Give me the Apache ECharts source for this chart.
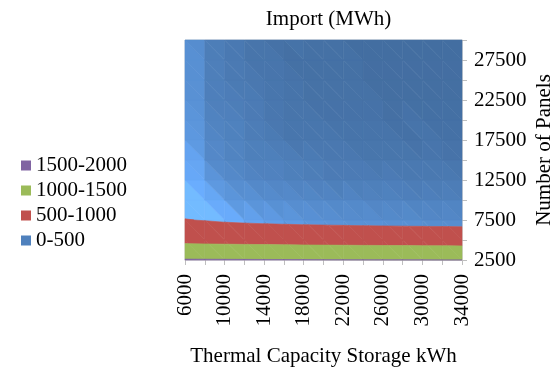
<!DOCTYPE html>
<html>
<head>
<meta charset="utf-8">
<script src="https://cdn.jsdelivr.net/npm/echarts@6/dist/echarts.min.js"></script>
<style>
  html, body { margin: 0; padding: 0; background: #fff; }
  #chart { width: 559px; height: 372px; }
</style>
</head>
<body>
<div id="chart"></div>
<script>
// Thermal storage capacity (kWh) along x, number of panels along y
const storageKWh = [6000, 8000, 10000, 12000, 14000, 16000, 18000, 20000, 22000, 24000, 26000, 28000, 30000, 32000, 34000];
const panelCounts = [2500, 5000, 7500, 10000, 12500, 15000, 17500, 20000, 22500, 25000, 27500, 30000];

// Grid import (MWh), one row per panel count, one value per storage size
const importAt2500 = [1530, 1527, 1524, 1521, 1518, 1516, 1514, 1512, 1510, 1508, 1507, 1506, 1505, 1504, 1503];
const importAt5000 = [883, 872, 862, 853, 845, 838, 831, 825, 819, 813, 808, 803, 798, 794, 790];
const importAt7500 = [512, 485, 455, 435, 420, 408, 398, 390, 383, 377, 371, 366, 361, 357, 353];
const importAt10000 = [312, 270, 250, 238, 228, 220, 213, 207, 202, 197, 193, 189, 186, 183, 180];
const importAt12500 = [195, 172, 158, 149, 142, 136, 131, 127, 124, 121, 118, 115, 113, 111, 109];
const importAt15000 = [150, 128, 118, 110, 104, 98, 93, 89, 86, 83, 81, 79, 77, 75, 74];
const importAt17500 = [122, 104, 94, 86, 80, 75, 72, 69, 66, 64, 62, 60, 59, 57, 56];
const importAt20000 = [106, 89, 80, 72, 66, 62, 59, 56, 54, 52, 50, 49, 47, 46, 45];
const importAt22500 = [94, 78, 70, 63, 57, 53, 50, 48, 46, 44, 42, 41, 40, 39, 38];
const importAt25000 = [86, 70, 62, 56, 51, 47, 44, 42, 40, 38, 37, 36, 35, 34, 33];
const importAt27500 = [80, 64, 56, 50, 46, 42, 40, 38, 36, 34, 33, 32, 31, 30, 29];
const importAt30000 = [75, 60, 52, 46, 42, 39, 36, 34, 32, 31, 30, 29, 28, 27, 26];

// Contour bands
const bandEdges = [0, 500, 1000, 1500, 2000];
const bandLabels = ['0-500', '500-1000', '1000-1500', '1500-2000'];

// ---- styling ----
const bandColors = ['#4F81BD', '#C0504D', '#9BBB59', '#8064A2'];
const bandRelief = [1, 0, 0, 0];   // how strongly slope lighting tints each band
const FONT = '"Liberation Serif", "Times New Roman", serif';

const importGrid = [importAt2500, importAt5000, importAt7500, importAt10000, importAt12500,
  importAt15000, importAt17500, importAt20000, importAt22500, importAt25000, importAt27500, importAt30000];

const nx = storageKWh.length, ny = panelCounts.length;
const cells = [];
for (let j = 0; j < ny - 1; j++) {
  for (let i = 0; i < nx - 1; i++) cells.push([i, j]);
}

// keep the part of a polygon on one side of a level of the field
function clipLevel(poly, level, keepAbove) {
  const out = [];
  for (let k = 0; k < poly.length; k++) {
    const a = poly[k], b = poly[(k + 1) % poly.length];
    const ina = keepAbove ? a.v >= level : a.v <= level;
    const inb = keepAbove ? b.v >= level : b.v <= level;
    if (ina) out.push(a);
    if (ina !== inb) {
      const t = (level - a.v) / (b.v - a.v);
      out.push({ x: a.x + t * (b.x - a.x), y: a.y + t * (b.y - a.y), v: level });
    }
  }
  return out;
}

// slope-dependent lighting of a facet
function lightFactor(gx, gy) {
  const f = 0.82 + 0.017 * Math.abs(gx) + 0.055 * Math.log(1 + Math.abs(gy) / 10);
  return Math.min(1.45, f);
}

function tint(hex, f) {
  const n = parseInt(hex.slice(1), 16);
  const r = Math.min(255, Math.round(((n >> 16) & 255) * f));
  const g = Math.min(255, Math.round(((n >> 8) & 255) * f));
  const b = Math.min(255, Math.round((n & 255) * f));
  return 'rgb(' + r + ',' + g + ',' + b + ')';
}

function makeRenderer(b) {
  const lo = bandEdges[b], hi = bandEdges[b + 1];
  return function (params, api) {
    const cell = cells[params.dataIndex];
    const i = cell[0], j = cell[1];
    const corner = (a, c) => {
      const p = api.coord([a, c]);
      return { x: p[0], y: p[1], v: importGrid[c][a] };
    };
    const c00 = corner(i, j), c10 = corner(i + 1, j), c01 = corner(i, j + 1), c11 = corner(i + 1, j + 1);
    // each cell is split along its top-left to bottom-right diagonal
    const tris = [
      { pts: [c00, c10, c01], gx: c10.v - c00.v, gy: c01.v - c00.v },
      { pts: [c10, c11, c01], gx: c11.v - c01.v, gy: c11.v - c10.v }
    ];
    const children = [];
    tris.forEach(t => {
      let poly = clipLevel(t.pts, lo, true);
      if (poly.length >= 3) poly = clipLevel(poly, hi, false);
      if (poly.length < 3) return;
      const f = 1 + bandRelief[b] * (lightFactor(t.gx, t.gy) - 1);
      const col = tint(bandColors[b], f);
      children.push({
        type: 'polygon',
        shape: { points: poly.map(p => [p.x, p.y]) },
        style: { fill: col, stroke: col, lineWidth: 0.6 }
      });
    });
    return { type: 'group', children: children };
  };
}

const chart = echarts.init(document.getElementById('chart'), null, { renderer: 'canvas' });

chart.setOption({
  animation: false,
  backgroundColor: '#ffffff',
  textStyle: { fontFamily: FONT },
  title: {
    text: 'Import (MWh)',
    left: 323.5,
    textAlign: 'center',
    top: 4,
    textStyle: { fontFamily: FONT, fontSize: 21, fontWeight: 'normal', color: '#000' }
  },
  legend: {
    orient: 'vertical',
    left: 16,
    top: 150,
    itemWidth: 10,
    itemHeight: 10,
    itemGap: 4,
    icon: 'rect',
    selectedMode: false,
    data: ['1500-2000', '1000-1500', '500-1000', '0-500'],
    textStyle: { fontFamily: FONT, fontSize: 21, color: '#000' }
  },
  grid: {
    left: 185, right: 97, top: 40, bottom: 111,
    show: true, borderColor: '#D9D9D9', borderWidth: 1, backgroundColor: 'transparent'
  },
  xAxis: {
    type: 'category',
    data: storageKWh.map(String),
    boundaryGap: false,
    name: 'Thermal Capacity Storage kWh',
    nameLocation: 'middle',
    nameGap: 86,
    nameTextStyle: { fontFamily: FONT, fontSize: 21, color: '#000' },
    axisLine: { show: true, lineStyle: { color: '#D9D9D9' } },
    axisTick: { show: true, interval: 0, length: 5, lineStyle: { color: '#BFBFBF' } },
    axisLabel: { interval: 1, rotate: 90, margin: 14, fontFamily: FONT, fontSize: 21, color: '#000' },
    splitLine: { show: false }
  },
  yAxis: {
    type: 'category',
    position: 'right',
    data: panelCounts.map(String),
    boundaryGap: false,
    name: 'Number of Panels',
    nameLocation: 'middle',
    nameRotate: 90,
    nameGap: 72,
    nameTextStyle: { fontFamily: FONT, fontSize: 21, color: '#000' },
    axisLine: { show: true, lineStyle: { color: '#D9D9D9' } },
    axisTick: { show: true, interval: 0, length: 5, lineStyle: { color: '#BFBFBF' } },
    axisLabel: { interval: 1, margin: 12, fontFamily: FONT, fontSize: 21, color: '#000' },
    splitLine: { show: false }
  },
  series: bandLabels.map((label, b) => ({
    type: 'custom',
    name: label,
    coordinateSystem: 'cartesian2d',
    silent: true,
    itemStyle: { color: bandColors[b] },
    encode: { x: 0, y: 1 },
    data: cells,
    renderItem: makeRenderer(b)
  }))
});
</script>
</body>
</html>
